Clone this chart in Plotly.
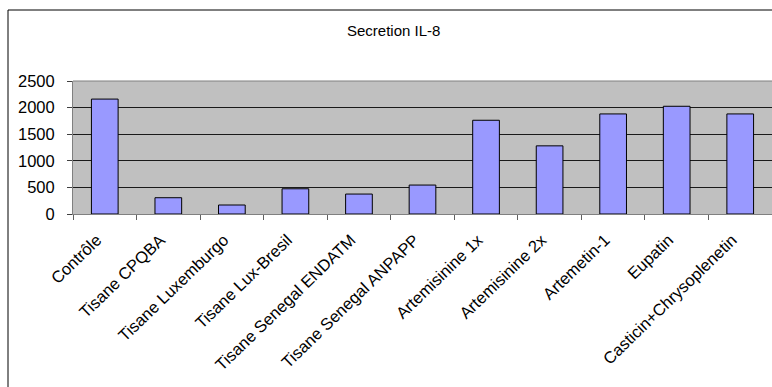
import plotly.graph_objects as go

categories = ["Contrôle", "Tisane CPQBA", "Tisane Luxemburgo", "Tisane Lux-Bresil",
              "Tisane Senegal ENDATM", "Tisane Senegal ANPAPP", "Artemisinine 1x",
              "Artemisinine 2x", "Artemetin-1", "Eupatin", "Casticin+Chrysoplenetin"]
values = [2160, 306, 169, 474, 375, 544, 1762, 1281, 1881, 2025, 1881]
y_ticks = [0, 500, 1000, 1500, 2000, 2500]
title = "Secretion IL-8"

W, H = 772, 387
L, R, T, B = 73, 0, 81, 173
pw = W - L - R
ph = H - T - B

def px_x(x):
    return (x - L) / pw

def px_y(y):
    return (H - B - y) / ph

fig = go.Figure(go.Bar(
    x=categories, y=values,
    marker=dict(color="#9999FF", line=dict(color="#000000", width=1)),
))

fig.update_layout(
    width=W, height=H,
    margin=dict(l=L, r=R, t=T, b=B),
    paper_bgcolor="white", plot_bgcolor="#C0C0C0",
    bargap=0.58, showlegend=False,
    font=dict(family="Liberation Sans, Arial, sans-serif", size=14, color="black"),
)
fig.update_xaxes(
    type="category", range=[-0.5, len(categories) - 0.5],
    tickangle=-44, ticks="outside", tickson="boundaries", ticklen=5,
    tickcolor="#606060", showline=True, linecolor="#808080", linewidth=1,
    showgrid=False, tickfont=dict(size=16.5),
    ticklabelstandoff=9, ticklabelshift=-8,
)
fig.update_yaxes(
    range=[0, 2500], tickvals=y_ticks, ticks="outside", ticklen=5,
    tickcolor="#404040", showline=True, linecolor="#808080", linewidth=1, mirror=True,
    showgrid=True, gridcolor="#1a1a1a", gridwidth=1, zeroline=False,
    tickfont=dict(size=16.5), ticklabelstandoff=9,
)
# top border of plot area
fig.add_shape(type="line", xref="paper", yref="paper", x0=0, x1=1, y0=1, y1=1,
              line=dict(color="#808080", width=1))
# chart frame (cut off at right and bottom)
fig.add_shape(type="rect", xref="paper", yref="paper",
              x0=px_x(8), x1=px_x(W + 20), y0=px_y(H + 20), y1=px_y(10),
              line=dict(color="#000000", width=1), fillcolor="rgba(0,0,0,0)", layer="above")
fig.add_annotation(text=title, xref="paper", yref="paper", x=px_x(393), y=px_y(30),
                   showarrow=False, font=dict(size=15), xanchor="center", yanchor="middle")

fig.write_html("out.html", config={"displayModeBar": False},
               post_script="document.body.style.margin='0';document.body.style.overflow='hidden';")
